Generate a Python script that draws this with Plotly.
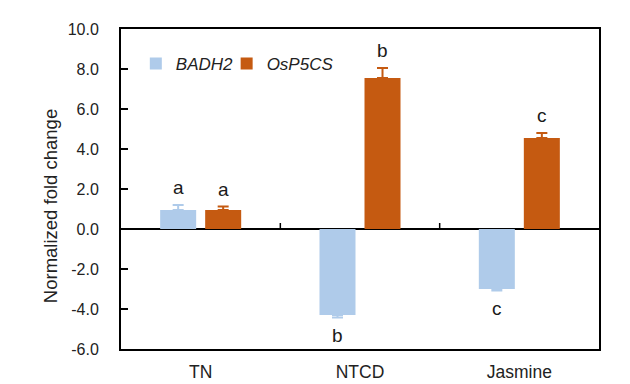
import plotly.graph_objects as go

categories = ["TN", "NTCD", "Jasmine"]
badh2_values = [0.95, -4.30, -3.00]
badh2_err_up = [0.25, 0.0, 0.0]
badh2_err_down = [0.0, 0.13, 0.08]
osp5cs_values = [0.95, 7.55, 4.55]
osp5cs_err_up = [0.17, 0.50, 0.25]
osp5cs_err_down = [0.0, 0.0, 0.0]
badh2_letters = ["a", "b", "c"]
osp5cs_letters = ["a", "b", "c"]
y_tickvals = [-6, -4, -2, 0, 2, 4, 6, 8, 10]
y_ticktext = ["-6.0", "-4.0", "-2.0", "0.0", "2.0", "4.0", "6.0", "8.0", "10.0"]

BLUE = "#AFCBEA"
ORANGE = "#C55A11"
FONT = "Liberation Sans, Arial, sans-serif"
TXT = "#222222"

fig = go.Figure()
fig.add_trace(go.Bar(
    x=categories, y=badh2_values, name="<i>BADH2</i>", legend="legend",
    marker=dict(color=BLUE, line=dict(width=0)),
    error_y=dict(type="data", symmetric=False, array=badh2_err_up,
                 arrayminus=badh2_err_down, color=BLUE, thickness=2, width=5.5),
))
fig.add_trace(go.Bar(
    x=categories, y=osp5cs_values, name="<i>OsP5CS</i>", legend="legend2",
    marker=dict(color=ORANGE, line=dict(width=0)),
    error_y=dict(type="data", symmetric=False, array=osp5cs_err_up,
                 arrayminus=osp5cs_err_down, color=ORANGE, thickness=2, width=5.5),
))

# significance letters
for vals, up, down, letters, shift in [
    (badh2_values, badh2_err_up, badh2_err_down, badh2_letters, -22.5),
    (osp5cs_values, osp5cs_err_up, osp5cs_err_down, osp5cs_letters, 22.5),
]:
    for c, v, u, d, t in zip(categories, vals, up, down, letters):
        if v >= 0:
            yy, anchor, ys = v + u, "bottom", 5
        else:
            yy, anchor, ys = v - d, "top", -5
        fig.add_annotation(x=c, y=yy, text=t, showarrow=False, xshift=shift,
                           yanchor=anchor, yshift=ys,
                           font=dict(family=FONT, size=19, color="#1a1a1a"))

# y-axis title (placed as in the reference, slightly below centre)
fig.add_annotation(text="Normalized fold change", textangle=-90, showarrow=False,
                   xref="paper", yref="paper", x=-0.146, y=0.447,
                   xanchor="center", yanchor="middle",
                   font=dict(family=FONT, size=18.5, color=TXT))

# small category-divider ticks on the zero line
for i in range(len(categories) - 1):
    fig.add_shape(type="line", xref="x", yref="y", x0=i + 0.5, x1=i + 0.5,
                  ysizemode="pixel", yanchor=0, y0=0, y1=6,
                  line=dict(color="black", width=1.5))

legend_common = dict(orientation="h", y=0.947, xanchor="left", yanchor="top",
                     font=dict(family=FONT, size=17, color=TXT),
                     bgcolor="rgba(0,0,0,0)", itemwidth=30)

# page body has an 8px margin, so the figure is sized to fit the window
fig.update_layout(
    width=622, height=376,
    margin=dict(l=113, r=31, t=21, b=35, autoexpand=False),
    paper_bgcolor="white", plot_bgcolor="white",
    barmode="group", bargap=0.435, bargroupgap=0.2,
    font=dict(family=FONT, size=16, color=TXT),
    showlegend=True,
    legend=dict(x=0.031, **legend_common),
    legend2=dict(x=0.221, **legend_common),
    xaxis=dict(showline=True, linecolor="black", linewidth=2, mirror=True,
               ticks="", showgrid=False, ticklabelstandoff=6, automargin=False,
               tickfont=dict(family=FONT, size=17.5, color=TXT),
               range=[-0.5, 2.5]),
    yaxis=dict(range=[-6, 10], tickvals=y_tickvals, ticktext=y_ticktext,
               showline=True, linecolor="black", linewidth=2, mirror=True,
               ticks="inside", ticklen=7, tickwidth=1.5, tickcolor="black",
               showgrid=False, zeroline=True, zerolinecolor="black", zerolinewidth=2,
               ticklabelstandoff=17, automargin=False,
               tickfont=dict(family=FONT, size=16, color=TXT)),
)

fig.write_html("out.html")
